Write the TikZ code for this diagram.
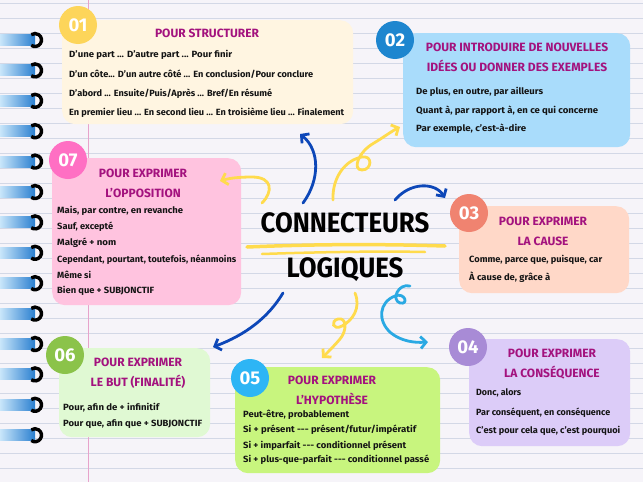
\documentclass[tikz,border=0pt]{standalone}
\usepackage{fontspec}
\usepackage{graphicx}
\setmainfont{Fira Sans}
\usetikzlibrary{arrows.meta}
\newcommand\fitline[2]{\resizebox{#1pt}{\height}{#2}}
\definecolor{bgc}{HTML}{F6F4F9}
\definecolor{rulec}{HTML}{D3D8E6}
\definecolor{marginc}{HTML}{E7A3CB}
\definecolor{titlec}{HTML}{A3127E}
\definecolor{bodyc}{HTML}{141414}
\definecolor{boxa}{HTML}{FFF5E1}\definecolor{circa}{HTML}{FDD55A}
\definecolor{boxb}{HTML}{A9DCFB}\definecolor{circb}{HTML}{1E86CF}
\definecolor{boxc}{HTML}{FFD8C8}\definecolor{circc}{HTML}{F08370}
\definecolor{boxd}{HTML}{DCCCF8}\definecolor{circd}{HTML}{A88BD6}
\definecolor{boxe}{HTML}{C8F57E}\definecolor{circe}{HTML}{2DB5F5}
\definecolor{boxf}{HTML}{E0F9D3}\definecolor{circf}{HTML}{8BC34A}
\definecolor{boxg}{HTML}{FFC3DF}\definecolor{circg}{HTML}{FF6FC3}
\definecolor{arrblue}{HTML}{0D47B8}
\definecolor{arryel}{HTML}{FFDB4D}
\definecolor{arrcyan}{HTML}{2AA9E3}
\definecolor{ringlight}{HTML}{C9E6FA}
\definecolor{ringdark}{HTML}{2A7FD0}
\begin{document}
\begin{tikzpicture}[x=1pt,y=-1pt,
  box/.style={rounded corners=13pt, inner sep=0pt, anchor=north west},
  numcirc/.style={circle, minimum size=38pt, inner sep=0pt, text=white, font=\fontsize{18.5}{18}\bfseries\selectfont},
  ttl/.style={inner sep=0pt, text=titlec, font=\fontsize{12}{13}\bfseries\selectfont, text height=8.5pt, text depth=0pt},
  bodyline/.style={inner sep=0pt, anchor=west, text=bodyc, font=\fontsize{9}{10}\bfseries\selectfont, text height=6.5pt, text depth=2pt},
  conn/.style={line width=2.8pt, line cap=round, -{Straight Barb[length=5.5pt,width=12pt,line width=2.8pt]}},
  bigt/.style={inner sep=0pt, font=\fontsize{28}{30}\bfseries\selectfont, text=black, xscale=0.92}
]
\useasboundingbox (0,0) rectangle (643,482);
\fill[bgc] (0,0) rectangle (643,482);
\foreach \k in {0,...,31} \draw[rulec, line width=0.7pt] (0,3+15*\k) -- (643,3+15*\k);
\draw[marginc, line width=0.8pt] (88,0) -- (88,482);
% spiral rings
\foreach \i in {0,...,13} {
  \pgfmathsetmacro{\ry}{40+30.4*\i}
  \fill[left color=ringlight, right color=ringdark] (0,\ry-5.5) rectangle (35,\ry+5.5);
  \draw[black, line width=3.4pt] (35,\ry) ++(125:6.5) arc[start angle=125, end angle=-125, radius=6.5];
}
% boxes
\node[box, fill=boxa, minimum width=291pt, minimum height=104pt] (b1) at (62,20) {};
\node[box, fill=boxb, minimum width=227pt, minimum height=114pt] (b2) at (403,33) {};
\node[box, fill=boxc, minimum width=170pt, minimum height=87pt] (b3) at (459,206) {};
\node[box, fill=boxd, minimum width=161pt, minimum height=107pt] (b4) at (469,339) {};
\node[box, fill=boxe, minimum width=205pt, minimum height=106pt] (b5) at (235,367) {};
\node[box, fill=boxf, minimum width=151pt, minimum height=89pt] (b6) at (59,348) {};
\node[box, fill=boxg, minimum width=189pt, minimum height=147pt] (b7) at (52,158) {};
% circles
\node[numcirc, fill=circa] (n1) at (78,25) {01};
\node[numcirc, fill=circb] (n2) at (395,40) {02};
\node[numcirc, fill=circc] (n3) at (469,213) {03};
\node[numcirc, fill=circd] (n4) at (468,347) {04};
\node[numcirc, fill=circe] (n5) at (250,378) {05};
\node[numcirc, fill=circf] (n6) at (65,355) {06};
\node[numcirc, fill=circg] (n7) at (68,160) {07};
% titles
\node[ttl] (t1) at (207,33) {POUR STRUCTURER};
\node[ttl] (t2a) at (517,47) {POUR INTRODUIRE DE NOUVELLES};
\node[ttl] (t2b) at (517,67) {IDÉES OU DONNER DES EXEMPLES};
\node[ttl] (t3a) at (543,221) {POUR EXPRIMER};
\node[ttl] (t3b) at (543,241) {LA CAUSE};
\node[ttl] (t4a) at (552,353) {POUR EXPRIMER};
\node[ttl] (t4b) at (552,373) {LA CONSÉQUENCE};
\node[ttl] (t5a) at (332,380) {POUR EXPRIMER};
\node[ttl] (t5b) at (332,400) {L'HYPOTHÈSE};
\node[ttl] (t6a) at (138,362) {POUR EXPRIMER};
\node[ttl] (t6b) at (138,382) {LE BUT (FINALITÉ)};
\node[ttl] (t7a) at (143,173) {POUR EXPRIMER};
\node[ttl] (t7b) at (143,193) {L'OPPOSITION};
% body 01
\node[bodyline] (l11) at (69,55) {\fitline{163}{D'une part ... D'autre part ... Pour finir}};
\node[bodyline] (l12) at (69,75) {\fitline{244}{D'un côte... D'un autre côté ... En conclusion/Pour conclure}};
\node[bodyline] (l13) at (69,94) {\fitline{203}{D'abord ... Ensuite/Puis/Après ... Bref/En résumé}};
\node[bodyline] (l14) at (69,113) {\fitline{275}{En premier lieu ... En second lieu ... En troisième lieu ... Finalement}};
% body 02
\node[bodyline] (l21) at (416,92) {\fitline{127}{De plus, en outre, par ailleurs}};
\node[bodyline] (l22) at (416,111) {\fitline{182}{Quant à, par rapport à, en ce qui concerne}};
\node[bodyline] (l23) at (416,129) {\fitline{110}{Par exemple, c'est-à-dire}};
% body 03
\node[bodyline] (l31) at (469,260) {\fitline{133}{Comme, parce que, puisque, car}};
\node[bodyline] (l32) at (469,278) {\fitline{81}{À cause de, grâce à}};
% body 04
\node[bodyline] (l41) at (476,393) {\fitline{45}{Donc, alors}};
\node[bodyline] (l42) at (476,413) {\fitline{134}{Par conséquent, en conséquence}};
\node[bodyline] (l43) at (476,431) {\fitline{144}{C'est pour cela que, c'est pourquoi}};
% body 05
\node[bodyline] (l51) at (243,415) {\fitline{106}{Peut-être, probablement}};
\node[bodyline] (l52) at (243,430) {\fitline{173}{Si + présent -{}-{}- présent/futur/impératif}};
\node[bodyline] (l53) at (243,446) {\fitline{163}{Si + imparfait -{}-{}- conditionnel présent}};
\node[bodyline] (l54) at (243,460) {\fitline{186}{Si + plus-que-parfait -{}-{}- conditionnel passé}};
% body 06
\node[bodyline] (l61) at (63,408) {\fitline{96}{Pour, afin de + infinitif}};
\node[bodyline] (l62) at (63,424) {\fitline{139}{Pour que, afin que + SUBJONCTIF}};
% body 07
\node[bodyline] (l71) at (57,211) {\fitline{126}{Mais, par contre, en revanche}};
\node[bodyline] (l72) at (57,227) {\fitline{56}{Sauf, excepté}};
\node[bodyline] (l73) at (57,243) {\fitline{59}{Malgré + nom}};
\node[bodyline] (l74) at (57,260) {\fitline{179}{Cependant, pourtant, toutefois, néanmoins}};
\node[bodyline] (l75) at (57,276) {\fitline{34}{Même si}};
\node[bodyline] (l76) at (57,291) {\fitline{97}{Bien que + SUBJONCTIF}};
% centre
\draw[arryel, line width=3.5pt, line cap=round] (247,247) .. controls (320,244) and (380,244) .. (445,246);
\draw[arryel, line width=2.5pt, line cap=round] (262,254) .. controls (320,252) and (380,251) .. (425,252);
\node[bigt] (c1) at (345,223) {CONNECTEURS};
\node[bigt] (c2) at (345,270) {LOGIQUES};
% arrow anchors
\coordinate (s1) at (303,203); \coordinate (e1) at (300,134);
\coordinate (s2) at (333,200); \coordinate (e2) at (400,127);
\coordinate (s3) at (395,200); \coordinate (e3) at (445,198);
\coordinate (s4) at (262,203); \coordinate (e4) at (220,181);
\coordinate (s5) at (283,293); \coordinate (e5) at (213,347);
\coordinate (s6) at (355,293); \coordinate (e6) at (322,358);
\coordinate (s7) at (410,286); \coordinate (e7) at (428,342);
\draw[conn, arrblue] (s1) .. controls (320,180) and (320,150) .. (e1);
\draw[conn, arryel] (s2) .. controls (332,178) and (345,160) .. (362,157) .. controls (373,155) and (372,170) .. (362,170) .. controls (352,170) and (358,152) .. (374,143) .. controls (384,137) and (392,131) .. (e2);
\draw[conn, arrblue] (s3) .. controls (410,182) and (435,182) .. (e3);
\draw[conn, arryel] (s4) .. controls (273,192) and (273,177) .. (252,177) .. controls (240,177) and (230,178) .. (e4);
\draw[conn, arrblue] (s5) .. controls (268,318) and (245,335) .. (e5);
\draw[conn, arryel] (s6) .. controls (361,308) and (353,320) .. (342,326) .. controls (333,331) and (330,321) .. (338,319) .. controls (347,317) and (347,331) .. (340,339) .. controls (335,345) and (328,352) .. (e6);
\draw[conn, arrcyan] (s7) .. controls (398,283) and (391,300) .. (400,303) .. controls (409,305) and (405,292) .. (395,296) .. controls (379,302) and (377,321) .. (391,333) .. controls (401,341) and (414,343) .. (e7);
\end{tikzpicture}
\end{document}
